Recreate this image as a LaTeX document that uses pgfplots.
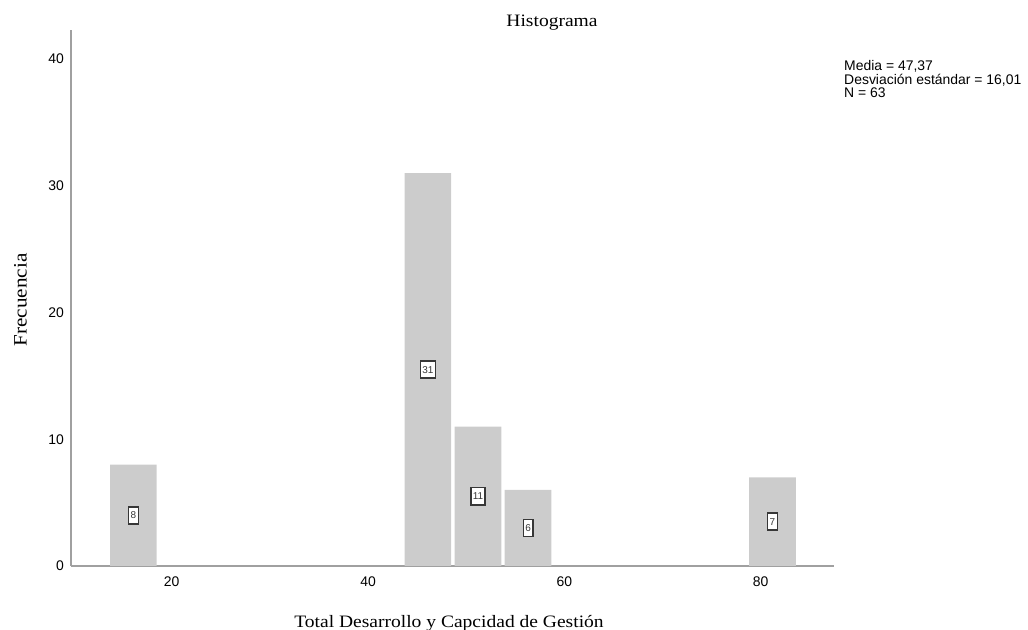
\documentclass[border=0pt]{standalone}
\usepackage{fontspec}
\setmainfont{Liberation Serif}
\setsansfont{Liberation Sans}
\newfontfamily\labelfont[FakeStretch=1.12]{Liberation Serif}
\usepackage{pgfplots}
\pgfplotsset{compat=1.18}
\definecolor{barfill}{RGB}{204,204,204}
\definecolor{axisgray}{RGB}{160,160,160}
\definecolor{boxgray}{RGB}{55,55,55}
\begin{document}
\begin{tikzpicture}[x=1bp,y=1bp]
\useasboundingbox (0,0) rectangle (1028,630);
\begin{axis}[
  at={(71bp,64bp)}, anchor=south west,
  scale only axis, width=763bp, height=536bp,
  xmin=9.74, xmax=87.47, ymin=0, ymax=42.3,
  axis x line*=bottom, axis y line*=left,
  axis line style={draw=axisgray, line width=1.2bp},
  xtick={20,40,60,80}, ytick={0,10,20,30,40},
  major tick length=0,
  tick label style={font=\sffamily\fontsize{14}{16}\selectfont, text=black},
  /pgf/number format/assume math mode=true,
  xticklabel style={yshift=-7bp},
  yticklabel style={xshift=-3.5bp},
  clip=false,
]
\addplot[ybar, bar width=4.75, fill=barfill, draw=none] coordinates {(16.1,8) (46.1,31) (51.2,11) (56.3,6) (81.2,7)};
\addplot[draw=none, mark=none, nodes near coords, point meta=explicit symbolic,
  nodes near coords style={anchor=center, draw=boxgray, fill=white, text=boxgray, line width=1.4bp,
    font=\sffamily\fontsize{10}{11}\selectfont, inner xsep=2bp, inner ysep=0bp, minimum height=17bp}]
  coordinates {(16.1,4) [8] (46.1,15.5) [31] (51.2,5.5) [11] (56.3,3) [6] (81.2,3.5) [7]};
\end{axis}
\node[anchor=base, font=\labelfont\fontsize{17.5}{20}\selectfont, inner sep=0] at (552,603) {Histograma};
\node[anchor=base, font=\labelfont\fontsize{17.5}{20}\selectfont, inner sep=0] at (449,2) {Total Desarrollo y Capcidad de Gestión};
\node[anchor=base, rotate=90, font=\labelfont\fontsize{19}{21}\selectfont, inner sep=0] at (26.7,330) {Frecuencia};
\node[anchor=base west, font=\sffamily\fontsize{14}{16}\selectfont, inner sep=0] at (844,559.5) {Media = 47,37};
\node[anchor=base west, font=\sffamily\fontsize{14}{16}\selectfont, inner sep=0] at (844,545.7) {Desviación estándar = 16,01};
\node[anchor=base west, font=\sffamily\fontsize{14}{16}\selectfont, inner sep=0] at (844,532) {N = 63};
\end{tikzpicture}
\end{document}
